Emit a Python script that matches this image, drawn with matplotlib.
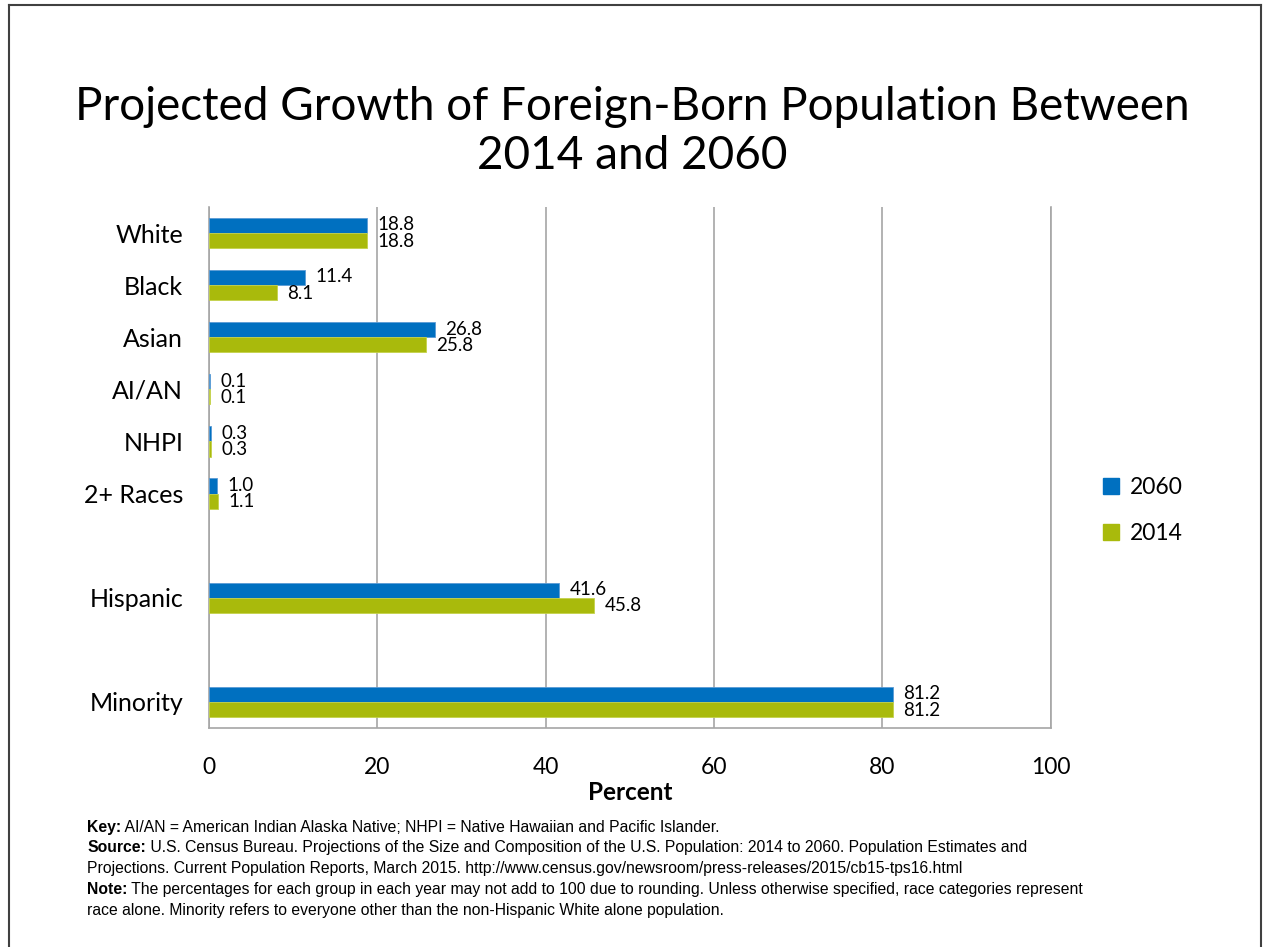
import matplotlib
matplotlib.use('Agg')
import matplotlib.pyplot as plt
from matplotlib.patches import Patch
from matplotlib.lines import Line2D
from matplotlib import font_manager

# data
categories = ['White', 'Black', 'Asian', 'AI/AN', 'NHPI', '2+ Races', 'Hispanic', 'Minority']
positions = [0, 1, 2, 3, 4, 5, 7, 9]
v2060 = [18.8, 11.4, 26.8, 0.1, 0.3, 1.0, 41.6, 81.2]
v2014 = [18.8, 8.1, 25.8, 0.1, 0.3, 1.1, 45.8, 81.2]
xticks = [0, 20, 40, 60, 80, 100]

blue = '#0070C0'
green = '#A9BA0C'
grid = '#A6A6A6'

font = 'Lato'
names = {f.name for f in font_manager.fontManager.ttflist}
foot_font = 'Liberation Sans Narrow' if 'Liberation Sans Narrow' in names else 'Liberation Sans'

fig = plt.figure(figsize=(12.64, 9.47), dpi=100)
ax = fig.add_axes([0.1653, 0.2313, 0.666, 0.5501])

h = 0.29
ax.barh([p - h / 2 for p in positions], v2060, height=h, color=blue, edgecolor='#5B9BD5', linewidth=0.6, zorder=3)
ax.barh([p + h / 2 for p in positions], v2014, height=h, color=green, edgecolor='#C4D24A', linewidth=0.6, zorder=3)

for p, a, b in zip(positions, v2060, v2014):
    ax.annotate(f'{a:.1f}', (a, p - h / 2), xytext=(7.5, 0.5), textcoords='offset points',
                va='center', ha='left', fontsize=13.5, family=font)
    ax.annotate(f'{b:.1f}', (b, p + h / 2), xytext=(7.5, -0.5), textcoords='offset points',
                va='center', ha='left', fontsize=13.5, family=font)

ax.set_xlim(0, 100)
ax.set_ylim(9.5, -0.5)
ax.set_xticks(xticks)
ax.set_xticklabels([str(t) for t in xticks], fontsize=16.5, family=font)
ax.set_yticks(positions)
ax.set_yticklabels(categories, fontsize=18, family=font)
ax.tick_params(length=0)
ax.tick_params(axis='x', pad=21)
ax.tick_params(axis='y', pad=18.5)
ax.grid(axis='x', color=grid, linewidth=1.2, zorder=0)
for s in ['left', 'right', 'bottom']:
    ax.spines[s].set_color(grid)
    ax.spines[s].set_linewidth(1.2)
ax.spines['top'].set_visible(False)
ax.set_xlabel('Percent', fontsize=17.5, fontweight='bold', family=font, labelpad=2)

leg = fig.legend(handles=[Patch(color=blue, label='2060'), Patch(color=green, label='2014')],
                 loc='center left', bbox_to_anchor=(0.856, 0.461), frameon=False,
                 handlelength=0.7, handleheight=0.7, handletextpad=0.5,
                 labelspacing=1.1, prop={'family': font, 'size': 16.5})

fig.text(0.5, 0.861, 'Projected Growth of Foreign-Born Population Between\n2014 and 2060',
         ha='center', va='center', fontsize=33, family=font, linespacing=1.2)

# footnotes
notes = [
    ('Key:', ' AI/AN = American Indian Alaska Native; NHPI = Native Hawaiian and Pacific Islander.'),
    ('Source:', ' U.S. Census Bureau. Projections of the Size and Composition of the U.S. Population: 2014 to 2060. Population Estimates and'),
    ('', 'Projections. Current Population Reports, March 2015. http://www.census.gov/newsroom/press-releases/2015/cb15-tps16.html'),
    ('Note:', ' The percentages for each group in each year may not add to 100 due to rounding. Unless otherwise specified, race categories represent'),
    ('', 'race alone. Minority refers to everyone other than the non-Hispanic White alone population.'),
]
renderer = fig.canvas.get_renderer()
x0 = 87 / 1264
y0 = 1 - 827 / 947
dy = 20.8 / 947
for i, (bold, rest) in enumerate(notes):
    y = y0 - i * dy
    x = x0
    if bold:
        t = fig.text(x, y, bold, fontsize=11.3, fontweight='bold', family=foot_font, va='center', ha='left')
        bb = t.get_window_extent(renderer)
        x = bb.x1 / fig.bbox.width
    fig.text(x, y, rest, fontsize=11.3, family=foot_font, va='center', ha='left')

# outer frame
for xs, ys in [([9 / 1264, 9 / 1264], [0, 1 - 5 / 947]),
               ([9 / 1264, 1261 / 1264], [1 - 5 / 947, 1 - 5 / 947]),
               ([1261 / 1264, 1261 / 1264], [0, 1 - 5 / 947])]:
    fig.add_artist(Line2D(xs, ys, color='#404040', linewidth=1.5))

fig.savefig('out.png', dpi=100)
